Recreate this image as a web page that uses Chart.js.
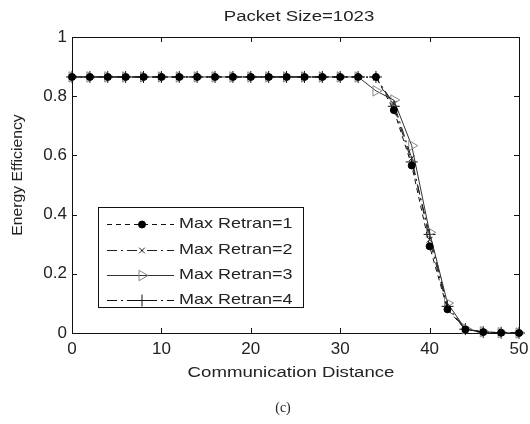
<!DOCTYPE html>
<html>
<head>
<meta charset="utf-8">
<script src="https://cdn.jsdelivr.net/npm/chart.js@4.4.0/dist/chart.umd.min.js"></script>
<style>
  html, body { margin: 0; padding: 0; background: #fff; }
  #wrap { width: 530px; height: 424px; }
</style>
</head>
<body>
<div id="wrap"><canvas id="myChart" width="530" height="424"></canvas></div>
<script>
// data
const distance = [0, 2, 4, 6, 8, 10, 12, 14, 16, 18, 20, 22, 24, 26, 28, 30, 32, 34, 36, 38, 40, 42, 44, 46, 48, 50];
const retran1 = [0.865, 0.865, 0.865, 0.865, 0.865, 0.865, 0.865, 0.865, 0.865, 0.865, 0.865, 0.865, 0.865, 0.865, 0.865, 0.865, 0.865, 0.865, 0.753, 0.566, 0.293, 0.080, 0.012, 0.003, 0.001, 0.000];
const retran2 = [0.865, 0.865, 0.865, 0.865, 0.865, 0.865, 0.865, 0.865, 0.865, 0.865, 0.865, 0.865, 0.865, 0.865, 0.865, 0.865, 0.865, 0.862, 0.775, 0.590, 0.315, 0.085, 0.012, 0.003, 0.001, 0.000];
const retran3 = [0.865, 0.865, 0.865, 0.865, 0.865, 0.865, 0.865, 0.865, 0.865, 0.865, 0.865, 0.865, 0.865, 0.865, 0.865, 0.865, 0.865, 0.818, 0.787, 0.633, 0.340, 0.101, 0.014, 0.004, 0.001, 0.000];
const retran4 = [0.865, 0.865, 0.865, 0.865, 0.865, 0.865, 0.865, 0.865, 0.865, 0.865, 0.865, 0.865, 0.865, 0.865, 0.865, 0.865, 0.865, 0.865, 0.766, 0.578, 0.333, 0.090, 0.013, 0.003, 0.001, 0.000];
const seriesNames = ['Max Retran=1', 'Max Retran=2', 'Max Retran=3', 'Max Retran=4'];
const xTicks = [0, 10, 20, 30, 40, 50];
const yTicks = [0, 0.2, 0.4, 0.6, 0.8, 1];

const ctx = document.querySelector('#myChart').getContext('2d');
const SANS = '"Liberation Sans", Arial, Helvetica, sans-serif';

function toPoints(ys) {
    return distance.map((x, i) => ({ x, y: ys[i] }));
}

// stretched text (the reference is a bit wider than tall)
function drawText(c, str, x, y, size, sx, align) {
    c.save();
    c.translate(x, y);
    c.scale(sx, 1);
    c.font = size + 'px ' + SANS;
    c.fillStyle = '#222';
    c.textAlign = align || 'center';
    c.textBaseline = 'middle';
    c.fillText(str, 0, 0);
    c.restore();
}

// frame, inner ticks, titles, legend
const decor = {
    id: 'decor',
    beforeDatasetsDraw(chart) {
        const c = chart.ctx, a = chart.chartArea;
        const xs = chart.scales.x, ys = chart.scales.y;
        c.save();
        c.strokeStyle = '#111';
        c.lineWidth = 1;
        c.strokeRect(Math.round(a.left) + 0.5, Math.round(a.top) + 0.5,
            Math.round(a.right - a.left), Math.round(a.bottom - a.top));
        c.beginPath();
        xTicks.forEach(v => {
            const px = Math.round(xs.getPixelForValue(v)) + 0.5;
            c.moveTo(px, a.bottom); c.lineTo(px, a.bottom - 5);
            c.moveTo(px, a.top); c.lineTo(px, a.top + 5);
        });
        yTicks.forEach(v => {
            const py = Math.round(ys.getPixelForValue(v)) + 0.5;
            c.moveTo(a.left, py); c.lineTo(a.left + 5, py);
            c.moveTo(a.right, py); c.lineTo(a.right - 5, py);
        });
        c.stroke();
        c.restore();
    },
    afterDraw(chart) {
        const c = chart.ctx;
        drawText(c, 'Packet Size=1023', 299, 17, 15.5, 1.2);
        drawText(c, 'Communication Distance', 291, 373, 15.5, 1.2);
        c.save();
        c.translate(18, 175);
        c.rotate(-Math.PI / 2);
        drawText(c, 'Energy Efficiency', 0, 0, 15, 1.05);
        c.restore();
        c.save();
        c.font = '14px "Liberation Serif", "Times New Roman", serif';
        c.fillStyle = '#222';
        c.textAlign = 'center';
        c.textBaseline = 'middle';
        c.fillText('(c)', 283, 408);
        c.restore();

        // legend box
        const bx = 98.5, by = 207.5, bw = 205, bh = 100;
        c.save();
        c.fillStyle = '#fff';
        c.fillRect(bx, by, bw, bh);
        c.strokeStyle = '#111';
        c.lineWidth = 1;
        c.strokeRect(bx, by, bw, bh);
        const rows = [224, 250, 275, 300];
        chart.data.datasets.forEach((ds, i) => {
            const y = rows[i] + 0.5;
            c.save();
            c.strokeStyle = ds.borderColor;
            c.lineWidth = ds.borderWidth;
            c.setLineDash(ds.borderDash || []);
            c.beginPath();
            c.moveTo(107, y); c.lineTo(174, y);
            c.stroke();
            c.restore();
            c.save();
            c.fillStyle = ds.pointBackgroundColor;
            c.strokeStyle = ds.pointBorderColor;
            c.lineWidth = 1;
            Chart.helpers.drawPoint(c, {
                pointStyle: ds.pointStyle,
                rotation: ds.pointRotation || 0,
                radius: ds.pointRadius,
                borderWidth: 1
            }, 142, y);
            c.restore();
            drawText(c, seriesNames[i], 179, rows[i], 15, 1.2, 'left');
        });
        c.restore();
    }
};

const chart = new Chart(ctx, {
    type: 'line',
    data: {
        datasets: [{
            label: seriesNames[0],
            data: toPoints(retran1),
            borderColor: '#111',
            borderWidth: 1,
            borderDash: [5, 4],
            pointStyle: 'circle',
            pointRadius: 3.5,
            pointBackgroundColor: '#000',
            pointBorderColor: '#000'
        }, {
            label: seriesNames[1],
            data: toPoints(retran2),
            borderColor: '#222',
            borderWidth: 1,
            borderDash: [10, 4, 2, 4],
            pointStyle: 'crossRot',
            pointRadius: 4,
            pointBackgroundColor: '#222',
            pointBorderColor: '#222'
        }, {
            label: seriesNames[2],
            data: toPoints(retran3),
            borderColor: '#333',
            borderWidth: 1,
            pointStyle: 'triangle',
            pointRotation: 90,
            pointRadius: 6,
            pointBackgroundColor: 'rgba(255,255,255,0)',
            pointBorderColor: '#888'
        }, {
            label: seriesNames[3],
            data: toPoints(retran4),
            borderColor: '#111',
            borderWidth: 1,
            borderDash: [10, 4, 2, 4],
            pointStyle: 'cross',
            pointRadius: 6,
            pointBackgroundColor: '#111',
            pointBorderColor: '#111'
        }]
    },
    options: {
        responsive: false,
        animation: false,
        clip: false,
        layout: { padding: { top: 37, right: 11, left: 0, bottom: 0 } },
        elements: { line: { tension: 0 }, point: { borderWidth: 1 } },
        scales: {
            x: {
                type: 'linear',
                min: 0,
                max: 50,
                afterFit(s) { s.height = 91; s.paddingLeft = 0; s.paddingRight = 0; },
                afterBuildTicks(s) { s.ticks = xTicks.map(v => ({ value: v })); },
                grid: { display: false, drawTicks: false },
                border: { display: false },
                ticks: { font: { family: SANS, size: 17 }, color: '#222', padding: 6, maxRotation: 0 }
            },
            y: {
                min: 0,
                max: 1,
                afterFit(s) { s.width = 72; s.paddingTop = 0; s.paddingBottom = 0; },
                afterBuildTicks(s) { s.ticks = yTicks.map(v => ({ value: v })); },
                grid: { display: false, drawTicks: false },
                border: { display: false },
                ticks: {
                    font: { family: SANS, size: 17 }, color: '#222', padding: 5,
                    callback: v => String(Math.round(v * 10) / 10)
                }
            }
        },
        plugins: {
            legend: { display: false },
            tooltip: { enabled: false }
        }
    },
    plugins: [decor]
});
</script>
</body>
</html>
